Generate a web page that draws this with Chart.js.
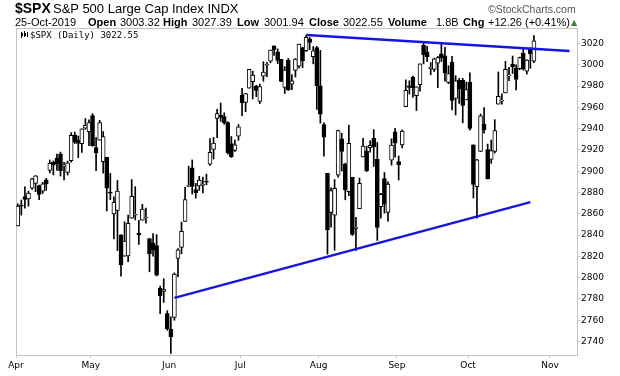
<!DOCTYPE html>
<html>
<head>
<meta charset="utf-8">
<script src="https://cdn.jsdelivr.net/npm/chart.js@4.4.0/dist/chart.umd.min.js"></script>
<style>
  body { margin: 0; background: #fff; }
  #wrap { position: relative; width: 620px; height: 376px; overflow: hidden; }
  #wrap canvas { position: absolute; left: 0; top: 0; }
  .t { position: absolute; white-space: nowrap; font-family: 'Liberation Sans', Arial, sans-serif; color: #000; line-height: 1; }
  .b { font-weight: bold; }
  .l2 { top: 17px; font-size: 11px; }
</style>
</head>
<body>
<div id="wrap">
  <canvas id="spx" width="620" height="376"></canvas>
  <div class="t b" style="left:15px;top:1px;font-size:14px">$SPX</div>
  <div class="t" style="left:53px;top:2px;font-size:13px">S&amp;P 500 Large Cap Index INDX</div>
  <div class="t" style="left:488px;top:3.5px;font-size:10.5px;color:#555">©StockCharts.com</div>
  <div class="t l2" style="left:15px">25-Oct-2019</div>
  <div class="t l2 b" style="left:88px">Open</div>
  <div class="t l2" style="left:120px">3003.32</div>
  <div class="t l2 b" style="left:163px">High</div>
  <div class="t l2" style="left:192px">3027.39</div>
  <div class="t l2 b" style="left:237px">Low</div>
  <div class="t l2" style="left:264px">3001.94</div>
  <div class="t l2 b" style="left:309px">Close</div>
  <div class="t l2" style="left:343px">3022.55</div>
  <div class="t l2 b" style="left:388px">Volume</div>
  <div class="t l2" style="left:436px">1.8B</div>
  <div class="t l2 b" style="left:463px">Chg</div>
  <div class="t l2" style="left:488px">+12.26 (+0.41%)</div>
  <div class="t" style="left:571px;top:19px;font-size:8px;color:#2e8b2e;font-family:'DejaVu Sans'">▲</div>
  <div class="t" style="left:30px;top:31px;font-size:9px;font-family:'DejaVu Sans Mono', monospace">$SPX (Daily) 3022.55</div>
</div>
<script>
// trading days shown, Apr 1 - Oct 25 2019
const dates = [
  '2019-04-01','2019-04-02','2019-04-03','2019-04-04','2019-04-05','2019-04-08','2019-04-09','2019-04-10','2019-04-11','2019-04-12','2019-04-15','2019-04-16','2019-04-17','2019-04-18','2019-04-22','2019-04-23','2019-04-24','2019-04-25','2019-04-26','2019-04-29','2019-04-30',
  '2019-05-01','2019-05-02','2019-05-03','2019-05-06','2019-05-07','2019-05-08','2019-05-09','2019-05-10','2019-05-13','2019-05-14','2019-05-15','2019-05-16','2019-05-17','2019-05-20','2019-05-21','2019-05-22','2019-05-23','2019-05-24','2019-05-28','2019-05-29','2019-05-30','2019-05-31',
  '2019-06-03','2019-06-04','2019-06-05','2019-06-06','2019-06-07','2019-06-10','2019-06-11','2019-06-12','2019-06-13','2019-06-14','2019-06-17','2019-06-18','2019-06-19','2019-06-20','2019-06-21','2019-06-24','2019-06-25','2019-06-26','2019-06-27','2019-06-28',
  '2019-07-01','2019-07-02','2019-07-03','2019-07-05','2019-07-08','2019-07-09','2019-07-10','2019-07-11','2019-07-12','2019-07-15','2019-07-16','2019-07-17','2019-07-18','2019-07-19','2019-07-22','2019-07-23','2019-07-24','2019-07-25','2019-07-26','2019-07-29','2019-07-30','2019-07-31',
  '2019-08-01','2019-08-02','2019-08-05','2019-08-06','2019-08-07','2019-08-08','2019-08-09','2019-08-12','2019-08-13','2019-08-14','2019-08-15','2019-08-16','2019-08-19','2019-08-20','2019-08-21','2019-08-22','2019-08-23','2019-08-26','2019-08-27','2019-08-28','2019-08-29','2019-08-30',
  '2019-09-03','2019-09-04','2019-09-05','2019-09-06','2019-09-09','2019-09-10','2019-09-11','2019-09-12','2019-09-13','2019-09-16','2019-09-17','2019-09-18','2019-09-19','2019-09-20','2019-09-23','2019-09-24','2019-09-25','2019-09-26','2019-09-27','2019-09-30',
  '2019-10-01','2019-10-02','2019-10-03','2019-10-04','2019-10-07','2019-10-08','2019-10-09','2019-10-10','2019-10-11','2019-10-14','2019-10-15','2019-10-16','2019-10-17','2019-10-18','2019-10-21','2019-10-22','2019-10-23','2019-10-24','2019-10-25'
];
// empty space at the right of the chart
const futureDates = ['2019-10-28','2019-10-29','2019-10-30','2019-10-31','2019-11-01','2019-11-04','2019-11-05','2019-11-06','2019-11-07','2019-11-08','2019-11-11','2019-11-12'];

const opens = [
  2848.63, 2868.24, 2876.09, 2873.99, 2884.16, 2888.46, 2886.58, 2881.37, 2891.92, 2900.86, 2908.32, 2912.26, 2916.04, 2904.81, 2898.78, 2909.99, 2934.00, 2928.99, 2925.81, 2940.58, 2937.14,
  2952.33, 2922.16, 2929.21, 2908.89, 2913.03, 2879.61, 2859.84, 2863.10, 2840.19, 2820.12, 2820.38, 2855.80, 2858.60, 2841.94, 2854.02, 2856.06, 2836.70, 2832.41, 2830.03, 2790.25, 2786.94, 2766.15,
  2751.53, 2762.64, 2818.09, 2828.51, 2852.87, 2885.83, 2903.27, 2882.73, 2886.24, 2886.82, 2889.75, 2906.71, 2920.55, 2949.60, 2952.71, 2951.42, 2945.78, 2926.07, 2919.66, 2932.94,
  2971.41, 2964.66, 2978.08, 2984.25, 2979.77, 2965.52, 2989.30, 2999.62, 3003.36, 3017.80, 3012.13, 3005.10, 2978.87, 3004.26, 2981.93, 2994.74, 2998.77, 3016.26, 3013.25, 3024.47, 3007.66, 3016.22,
  2980.32, 2943.90, 2898.07, 2861.18, 2858.65, 2896.21, 2930.51, 2907.07, 2880.72, 2894.15, 2846.20, 2864.74, 2913.48, 2919.01, 2922.04, 2930.94, 2911.07, 2866.70, 2893.14, 2861.28, 2910.37, 2937.09,
  2909.01, 2924.67, 2960.60, 2980.33, 2988.43, 2971.01, 2981.41, 3018.21, 3012.21, 2996.41, 2995.67, 3001.50, 3010.36, 3008.42, 2983.50, 3002.43, 2968.35, 2985.73, 2985.47, 2967.07,
  2983.69, 2924.78, 2885.38, 2918.56, 2944.23, 2920.40, 2911.10, 2918.55, 2963.07, 2965.81, 2973.61, 2989.68, 3000.77, 2996.84, 2996.48, 3010.73, 2994.01, 3014.78, 3003.32
];
const highs = [
  2869.40, 2872.90, 2885.25, 2881.28, 2893.24, 2895.95, 2886.88, 2889.71, 2893.42, 2910.54, 2909.60, 2916.06, 2918.00, 2908.40, 2909.51, 2936.31, 2936.83, 2933.10, 2939.88, 2949.52, 2948.22,
  2954.13, 2931.68, 2947.85, 2937.32, 2913.03, 2897.96, 2875.97, 2891.31, 2840.19, 2852.54, 2858.68, 2892.15, 2885.48, 2853.86, 2868.88, 2865.47, 2836.70, 2841.36, 2840.51, 2792.03, 2799.00, 2768.98,
  2763.07, 2804.49, 2827.28, 2852.10, 2884.97, 2904.77, 2910.61, 2888.57, 2895.24, 2894.45, 2897.27, 2930.79, 2931.74, 2958.06, 2964.15, 2954.92, 2946.52, 2932.59, 2929.30, 2943.98,
  2977.93, 2973.21, 2995.84, 2994.03, 2980.76, 2981.90, 3002.98, 3002.33, 3013.92, 3017.80, 3015.02, 3005.26, 2998.28, 3006.02, 2990.71, 3005.90, 3019.59, 3016.31, 3027.98, 3025.61, 3017.19, 3017.40,
  3013.59, 2945.50, 2898.07, 2884.40, 2892.17, 2938.72, 2935.75, 2907.58, 2943.31, 2894.15, 2856.67, 2893.63, 2931.00, 2923.63, 2928.73, 2939.08, 2927.01, 2879.27, 2898.79, 2890.03, 2930.50, 2940.43,
  2914.39, 2938.84, 2985.86, 2985.03, 2989.43, 2979.39, 3000.93, 3020.98, 3017.33, 3002.19, 3006.21, 3007.83, 3021.19, 3016.37, 2999.15, 3007.98, 2989.82, 2987.28, 2987.31, 2983.85,
  2992.53, 2924.78, 2911.13, 2953.74, 2959.75, 2925.47, 2929.32, 2948.46, 2993.28, 2972.84, 3003.28, 2997.54, 3008.29, 3000.00, 3007.33, 3014.57, 3004.78, 3016.07, 3027.39
];
const lows = [
  2848.63, 2858.75, 2865.17, 2867.14, 2882.99, 2880.78, 2873.33, 2879.13, 2881.99, 2898.37, 2896.48, 2900.71, 2895.45, 2891.90, 2896.35, 2908.53, 2926.05, 2912.84, 2917.56, 2939.35, 2924.11,
  2923.36, 2900.50, 2929.21, 2898.21, 2862.60, 2873.28, 2836.40, 2825.39, 2801.43, 2820.12, 2815.08, 2855.80, 2854.23, 2831.29, 2854.02, 2851.11, 2805.49, 2820.19, 2801.58, 2766.06, 2776.74, 2750.52,
  2728.81, 2760.00, 2800.92, 2822.45, 2852.87, 2885.51, 2878.53, 2874.68, 2881.99, 2879.62, 2887.30, 2905.44, 2911.43, 2931.50, 2946.87, 2944.05, 2916.01, 2912.99, 2918.57, 2929.05,
  2952.22, 2955.92, 2977.96, 2967.97, 2970.09, 2963.44, 2984.62, 2988.80, 3001.87, 3008.77, 3001.15, 2984.25, 2973.09, 2975.86, 2976.65, 2988.56, 2996.82, 2997.24, 3012.59, 3014.30, 3000.94, 2958.08,
  2945.23, 2914.11, 2822.12, 2847.42, 2825.71, 2894.47, 2900.15, 2873.14, 2877.05, 2839.64, 2825.51, 2864.74, 2913.48, 2899.60, 2917.91, 2904.51, 2834.97, 2856.00, 2860.59, 2853.05, 2905.67, 2913.32,
  2891.85, 2921.86, 2960.60, 2972.51, 2969.39, 2957.01, 2975.31, 3000.92, 3002.90, 2990.67, 2993.73, 2978.57, 3003.16, 2984.68, 2982.23, 2957.73, 2952.86, 2963.71, 2945.53, 2967.07,
  2938.70, 2874.93, 2855.94, 2918.56, 2935.68, 2892.66, 2907.41, 2917.12, 2963.07, 2962.94, 2973.61, 2985.20, 2991.79, 2976.31, 2995.35, 2995.04, 2991.21, 2996.70, 3001.94
];
const closes = [
  2867.19, 2867.24, 2873.40, 2879.39, 2892.74, 2895.77, 2878.20, 2888.21, 2888.32, 2907.41, 2905.58, 2907.06, 2900.45, 2905.03, 2907.97, 2933.68, 2927.25, 2926.17, 2939.88, 2943.03, 2945.83,
  2923.73, 2917.52, 2945.64, 2932.47, 2884.05, 2879.42, 2870.72, 2881.40, 2811.87, 2834.41, 2850.96, 2876.32, 2859.53, 2840.23, 2864.36, 2856.27, 2822.24, 2826.06, 2802.39, 2783.02, 2788.86, 2752.06,
  2744.45, 2803.27, 2826.15, 2843.49, 2873.34, 2886.73, 2885.72, 2879.84, 2891.64, 2886.98, 2889.67, 2917.75, 2926.46, 2954.18, 2950.46, 2945.35, 2917.38, 2913.78, 2924.92, 2941.76,
  2964.33, 2973.01, 2995.82, 2990.41, 2975.95, 2979.63, 2993.07, 2999.91, 3013.77, 3014.30, 3004.04, 2984.42, 2995.11, 2976.61, 2985.03, 3005.47, 3019.56, 3003.67, 3025.86, 3020.97, 3013.18, 2980.38,
  2953.56, 2932.05, 2844.74, 2881.77, 2883.98, 2938.09, 2918.65, 2882.70, 2926.32, 2840.60, 2847.60, 2888.68, 2923.65, 2900.51, 2924.43, 2922.95, 2847.11, 2878.38, 2869.16, 2887.94, 2924.58, 2926.46,
  2906.27, 2937.78, 2976.00, 2978.71, 2978.43, 2979.39, 3000.93, 3009.57, 3007.39, 2997.96, 3005.70, 3006.73, 3006.79, 2992.07, 2991.78, 2966.60, 2984.87, 2977.62, 2961.79, 2976.74,
  2940.25, 2887.61, 2910.63, 2952.01, 2938.79, 2893.06, 2919.40, 2938.13, 2970.27, 2966.15, 2995.68, 2989.69, 2997.95, 2986.20, 3006.72, 2995.99, 3004.52, 3010.29, 3022.55
];

// trend lines drawn on the chart (date, price)
const upperTrend = [['2019-07-26', 3028.0], ['2019-11-08', 3012.9]];
const lowerTrend = [['2019-06-04', 2781.0], ['2019-10-24', 2871.0]];

const yTicks = [2740, 2760, 2780, 2800, 2820, 2840, 2860, 2880, 2900, 2920, 2940, 2960, 2980, 3000, 3020];
const monthNames = ['Jan','Feb','Mar','Apr','May','Jun','Jul','Aug','Sep','Oct','Nov','Dec'];

const axisDates = dates.concat(futureDates);
const idx = d => axisDates.indexOf(d);

// month boundaries for x labels
const monthTicks = [];
axisDates.forEach((d, i) => {
  const m = +d.slice(5, 7);
  if (i === 0 || +axisDates[i - 1].slice(5, 7) !== m) monthTicks.push({ value: i - 0.5, label: monthNames[m - 1] });
});

const wicks = dates.map((d, i) => ({ x: i, y: [lows[i], highs[i]] }));
const bodies = dates.map((d, i) => ({ x: i, y: [opens[i], closes[i]] }));
const bodyFill = dates.map((d, i) => closes[i] < opens[i] ? '#000' : '#fff');

const frame = {
  id: 'frame',
  beforeDatasetsDraw(chart) {
    const { ctx, chartArea: a } = chart;
    ctx.save();
    ctx.strokeStyle = '#c4c4c4';
    ctx.lineWidth = 1;
    ctx.beginPath();
    ctx.moveTo(a.left + 0.5, a.bottom);
    ctx.lineTo(a.left + 0.5, a.top + 0.5);
    ctx.lineTo(a.right, a.top + 0.5);
    ctx.stroke();
    // little candle icon in front of the legend text
    ctx.fillStyle = '#000';
    ctx.fillRect(a.left + 5, a.top + 4, 1, 6);
    ctx.fillRect(a.left + 6, a.top + 5, 1, 3);
    ctx.fillRect(a.left + 8, a.top + 3, 1, 6);
    ctx.fillRect(a.left + 9, a.top + 5, 1, 3);
    ctx.fillRect(a.left + 11, a.top + 4, 1, 5);
    ctx.restore();
  }
};

new Chart(document.getElementById('spx'), {
  type: 'bar',
  data: {
    datasets: [
      {
        type: 'line',
        data: upperTrend.map(p => ({ x: idx(p[0]), y: p[1] })),
        borderColor: '#1414e6',
        borderWidth: 2.5,
        pointRadius: 0,
        order: 0
      },
      {
        type: 'line',
        data: lowerTrend.map(p => ({ x: idx(p[0]), y: p[1] })),
        borderColor: '#1414e6',
        borderWidth: 2.5,
        pointRadius: 0,
        order: 0
      },
      {
        data: bodies,
        backgroundColor: bodyFill,
        borderColor: '#000',
        borderWidth: 1,
        borderSkipped: false,
        barThickness: 4,
        minBarLength: 1,
        grouped: false,
        order: 1
      },
      {
        data: wicks,
        backgroundColor: '#000',
        borderWidth: 0,
        barThickness: 1,
        grouped: false,
        order: 2
      }
    ]
  },
  options: {
    responsive: false,
    animation: false,
    layout: { padding: { left: 16, top: 28, right: 0, bottom: 0 } },
    plugins: { legend: { display: false }, tooltip: { enabled: false } },
    scales: {
      x: {
        type: 'linear',
        offset: false,
        min: -0.5,
        max: axisDates.length - 0.9,
        afterBuildTicks: s => { s.ticks = monthTicks.map(t => ({ value: t.value })); },
        afterFit: s => { s.height = 21; },
        grid: { drawOnChartArea: false, offset: false, tickLength: 3, color: '#c4c4c4' },
        border: { color: '#c4c4c4', dash: [1, 1] },
        ticks: {
          autoSkip: false,
          maxRotation: 0,
          padding: 2,
          color: '#000',
          font: { family: 'DejaVu Sans', size: 9 },
          callback: v => (monthTicks.find(t => t.value === v) || {}).label
        }
      },
      y: {
        position: 'right',
        min: 2727.3,
        max: 3034.6,
        afterBuildTicks: s => { s.ticks = yTicks.map(v => ({ value: v })); },
        afterFit: s => { s.width = 43; },
        grid: { drawOnChartArea: false, tickLength: 3, color: '#c4c4c4' },
        border: { color: '#c4c4c4', dash: [1, 1] },
        ticks: {
          padding: 1,
          color: '#000',
          font: { family: 'DejaVu Sans', size: 9 },
          callback: v => String(v)
        }
      }
    }
  },
  plugins: [frame]
});
</script>
</body>
</html>
